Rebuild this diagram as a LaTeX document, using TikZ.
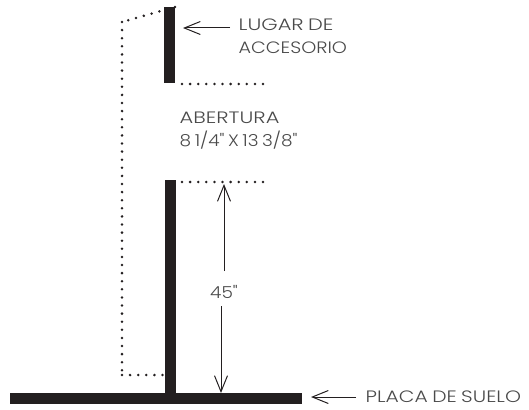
\documentclass[tikz,border=0pt]{standalone}
\usepackage{fontspec}
\setmainfont[FakeStretch=1.16,WordSpace=0.75]{Poppins Light}
\newfontfamily\widef[FakeStretch=1.27,WordSpace=0.75]{Poppins Light}
\newfontfamily\placaf[FakeStretch=1.23,WordSpace=0.8]{Poppins Light}
\newfontfamily\numf[FakeStretch=1.12,WordSpace=0.7]{Poppins Light}
\usetikzlibrary{arrows.meta}
\definecolor{barc}{HTML}{231F20}
\definecolor{txtc}{HTML}{4A4A4A}
\tikzset{
  px/.style={x=1pt,y=-1pt},
  solidbar/.style={fill=barc,draw=none},
  dotline/.style={line width=2.8pt,line cap=round,dash pattern=on 0pt off 8.1pt,color=barc},
  pointer/.style={line width=1pt,color=barc,-{Straight Barb[length=16pt,width=13pt,line width=1pt]}},
  lbl/.style={text=txtc,font=\fontsize{16.5}{23.5}\selectfont,anchor=west,inner sep=0pt,align=left}
}
\begin{document}
\begin{tikzpicture}[px]
\useasboundingbox (0,0) rectangle (529,409);
\fill[solidbar] (164,7) rectangle (175,83);
\fill[solidbar] (165,180) rectangle (176,394);
\fill[solidbar] (10,393) rectangle (302,404);
\coordinate (tl) at (122,22);
\coordinate (tr) at (175,7);
\coordinate (bl) at (122,375);
\coordinate (br) at (165,375);
\draw[dotline] (tr) -- (tl);
\draw[dotline] (tl) -- (bl);
\draw[dotline] (bl) -- (br);
\coordinate (o1a) at (182,84);
\coordinate (o1b) at (266,84);
\coordinate (o2a) at (182,182);
\coordinate (o2b) at (266,182);
\draw[dotline] (o1a) -- (o1b);
\draw[dotline] (o2a) -- (o2b);
\node[lbl] (lugar) at (238.5,36) {{\widef LUGAR DE}\\ACCESORIO};
\node[lbl] (abert) at (179.5,130.5) {{\widef ABERTURA}\\{\numf 8 1/4" X 13 3/8"}};
\node[lbl,anchor=center] (alt) at (224,292) {\numf 45"};
\node[lbl] (placa) at (365.5,397) {\placaf PLACA DE SUELO};
\coordinate (a1s) at (230,28);
\coordinate (a1e) at (183,28);
\draw[pointer] (a1s) -- (a1e);
\coordinate (a2s) at (356,397);
\coordinate (a2e) at (311,397);
\draw[pointer] (a2s) -- (a2e);
\coordinate (a3s) at (224,271);
\coordinate (a3e) at (224,184);
\draw[pointer] (a3s) -- (a3e);
\coordinate (a4s) at (221,306);
\coordinate (a4e) at (221,393);
\draw[pointer] (a4s) -- (a4e);
\end{tikzpicture}
\end{document}
